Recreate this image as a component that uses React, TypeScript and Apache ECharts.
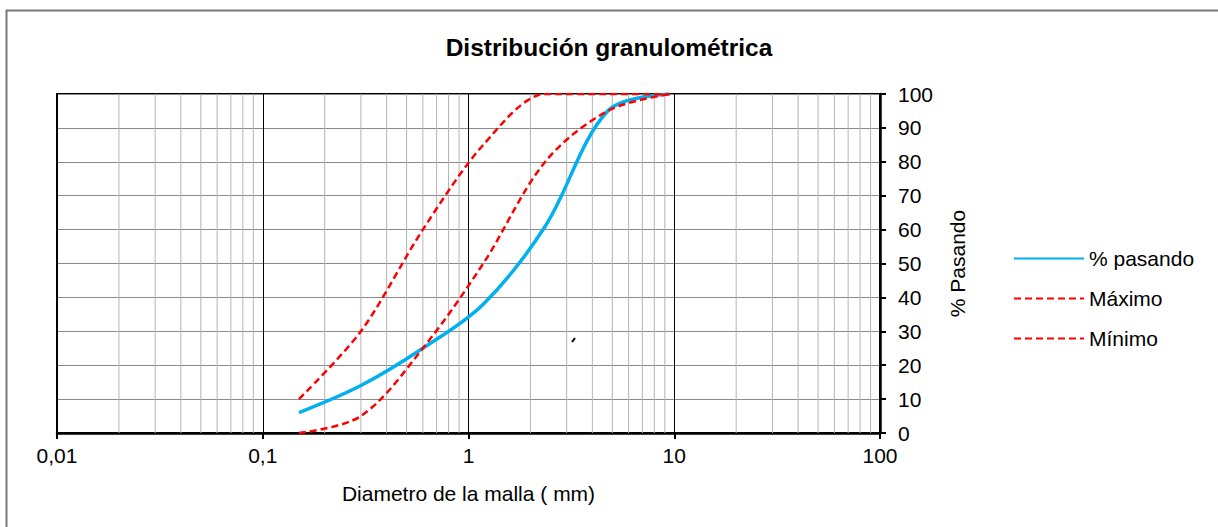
import React, { useEffect, useRef } from "react";
import * as echarts from "echarts";

// Sieve openings (mm) and percentage passing for the sample and the spec band
const sieveSizes = [0.15, 0.3, 0.6, 1.18, 2.36, 4.75, 9.5];
const pasando = [6, 14, 25, 38, 61, 95, 100];
const maximo = [10, 30, 60, 85, 100, 100, 100];
const minimo = [0, 5, 25, 50, 80, 95, 100];

// Decade tick labels of the log axis (decimal comma)
const xTickValues = [0.01, 0.1, 1, 10, 100];
const xTickLabels = ["0,01", "0,1", "1", "10", "100"];

const FONT = "Arial, 'Liberation Sans', sans-serif";
const TEXT_SIZE = 21;

// Intermediate log grid lines (2..9 of each decade)
const minorLines: number[] = [];
for (let d = 0; d < 4; d++) {
  for (let k = 2; k <= 9; k++) {
    minorLines.push(Number((k * xTickValues[d]).toPrecision(3)));
  }
}

function pairs(ys: number[]) {
  return sieveSizes.map((x, i) => [x, ys[i]]);
}

export default function App() {
  const ref = useRef<HTMLDivElement>(null);

  useEffect(() => {
    if (!ref.current) return;
    const chart = echarts.init(ref.current, null, { renderer: "svg" });

    const gridSeries = minorLines.map((v) => ({
      type: "line",
      name: "g" + v,
      data: [
        [v, 0],
        [v, 100],
      ],
      symbol: "none",
      silent: true,
      z: 1,
      lineStyle: { color: "#b4b4b4", width: 1 },
    }));

    const labelFor = (v: number) => {
      const idx = xTickValues.findIndex((t) => Math.abs(Math.log10(t) - Math.log10(v)) < 1e-6);
      return idx >= 0 ? xTickLabels[idx] : "";
    };

    chart.setOption({
      animation: false,
      backgroundColor: "#ffffff",
      textStyle: { fontFamily: FONT },
      title: {
        text: "Distribución granulométrica",
        left: "center",
        top: 30,
        textStyle: { fontFamily: FONT, fontSize: 24.5, fontWeight: "bold", color: "#000" },
      },
      grid: {
        left: 57,
        right: 338,
        top: 94,
        bottom: 94,
        show: true,
        borderColor: "#000",
        borderWidth: 2,
        backgroundColor: "transparent",
      },
      legend: {
        data: ["% pasando", "Máximo", "Mínimo"],
        orient: "vertical",
        left: 1013,
        top: 248,
        padding: 0,
        itemWidth: 70,
        itemHeight: 20,
        itemGap: 19,
        itemStyle: { opacity: 0, borderWidth: 0 },
        textStyle: { fontFamily: FONT, fontSize: TEXT_SIZE, color: "#000" },
      },
      xAxis: {
        type: "log",
        logBase: 10,
        min: 0.01,
        max: 100,
        name: "Diametro de la malla ( mm)",
        nameLocation: "middle",
        nameGap: 50,
        nameTextStyle: { fontFamily: FONT, fontSize: TEXT_SIZE, color: "#000" },
        axisLine: { show: true, lineStyle: { color: "#000", width: 2.5 } },
        axisTick: { show: true, length: 6, lineStyle: { color: "#000", width: 2 } },
        axisLabel: {
          fontFamily: FONT,
          fontSize: TEXT_SIZE,
          color: "#000",
          margin: 12,
          formatter: (v: number) => labelFor(v),
        },
        splitLine: { show: true, lineStyle: { color: "#000", width: 1 } },
      },
      yAxis: {
        type: "value",
        position: "right",
        min: 0,
        max: 100,
        interval: 10,
        name: "% Pasando",
        nameLocation: "middle",
        nameRotate: 90,
        nameGap: 67,
        nameTextStyle: { fontFamily: FONT, fontSize: TEXT_SIZE, color: "#000" },
        axisLine: { show: true, lineStyle: { color: "#000", width: 2.5 } },
        axisTick: { show: true, length: 6, lineStyle: { color: "#000", width: 2 } },
        axisLabel: { fontFamily: FONT, fontSize: TEXT_SIZE, color: "#000", margin: 18 },
        splitLine: { show: true, lineStyle: { color: "#8a8a8a", width: 1 } },
      },
      series: [
        ...gridSeries,
        {
          type: "line",
          name: "% pasando",
          data: pairs(pasando),
          smooth: 0.33,
          symbol: "none",
          z: 3,
          color: "#00b0f0",
          lineStyle: { color: "#00b0f0", width: 3.5 },
        },
        {
          type: "line",
          name: "Máximo",
          data: pairs(maximo),
          smooth: 0.3,
          symbol: "none",
          z: 4,
          color: "#ff0000",
          lineStyle: { color: "#ff0000", width: 2.5, type: [7, 4] },
        },
        {
          type: "line",
          name: "Mínimo",
          data: pairs(minimo),
          smooth: 0.33,
          symbol: "none",
          z: 4,
          color: "#ff0000",
          lineStyle: { color: "#ff0000", width: 2.5, type: [7, 4] },
        },
      ],
      graphic: [
        {
          type: "rect",
          shape: { x: 6.5, y: 10.5, width: 1400, height: 700 },
          style: { fill: "none", stroke: "#7a7a7a", lineWidth: 2 },
          silent: true,
        },
        {
          type: "line",
          shape: { x1: 572, y1: 342, x2: 575, y2: 338 },
          style: { stroke: "#000", lineWidth: 2 },
          silent: true,
        },
      ],
    });

    return () => chart.dispose();
  }, []);

  return (
    <div
      ref={ref}
      style={{ position: "absolute", left: 0, top: 0, width: 1218, height: 527 }}
    />
  );
}
